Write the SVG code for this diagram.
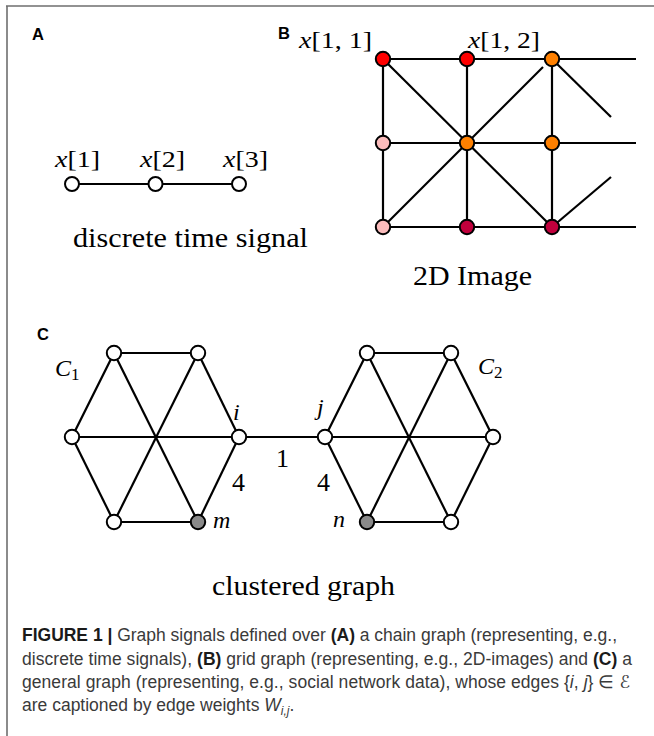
<svg xmlns="http://www.w3.org/2000/svg" width="654" height="736" viewBox="0 0 654 736">
<style>
.frame{stroke:#6e6e6e;stroke-width:1.6;fill:none}
.e{stroke:#000;stroke-width:2.2;fill:none;stroke-linecap:butt}
.n{stroke:#000;stroke-width:2;fill:#fff}
.lbl{font-family:"Liberation Sans",Arial,sans-serif;font-weight:bold;font-size:16.5px;fill:#000}
.math{font-family:"Liberation Serif","Times New Roman",serif;font-size:24px;fill:#000}
.num{font-family:"Liberation Serif","Times New Roman",serif;font-size:26px;fill:#000}
.it{font-style:italic}
.title{font-family:"Liberation Serif","Times New Roman",serif;font-size:28px;fill:#000}
.cap{font-family:"Liberation Sans",Arial,sans-serif;font-size:17.5px;fill:#3a3a3a}
.b{font-weight:bold;fill:#1a1a1a}
</style>
<rect width="654" height="736" fill="#fff"/>
<g id="frame">
<line class="frame" x1="6" y1="6" x2="654" y2="6"/>
<line class="frame" x1="7" y1="6" x2="7" y2="736"/>
</g>

<g id="connectors">
<line class="e" x1="72" y1="184" x2="239" y2="184"/>
<line class="e" x1="383" y1="59" x2="636" y2="59"/>
<line class="e" x1="383" y1="143" x2="636" y2="143"/>
<line class="e" x1="383" y1="227" x2="636" y2="227"/>
<line class="e" x1="383" y1="59" x2="383" y2="227"/>
<line class="e" x1="467" y1="59" x2="467" y2="227"/>
<line class="e" x1="552" y1="59" x2="552" y2="227"/>
<line class="e" x1="383" y1="59" x2="552" y2="227"/>
<line class="e" x1="383" y1="227" x2="543" y2="67"/>
<line class="e" x1="552" y1="59" x2="611" y2="117"/>
<line class="e" x1="552" y1="227" x2="611" y2="177"/>
<line class="e" x1="114" y1="353" x2="198" y2="353"/>
<line class="e" x1="198" y1="353" x2="239" y2="437"/>
<line class="e" x1="239" y1="437" x2="198" y2="522"/>
<line class="e" x1="198" y1="522" x2="114" y2="522"/>
<line class="e" x1="114" y1="522" x2="72" y2="437"/>
<line class="e" x1="72" y1="437" x2="114" y2="353"/>
<line class="e" x1="114" y1="353" x2="198" y2="522"/>
<line class="e" x1="198" y1="353" x2="114" y2="522"/>
<line class="e" x1="72" y1="437" x2="239" y2="437"/>
<line class="e" x1="239" y1="437" x2="325" y2="437"/>
<line class="e" x1="367" y1="353" x2="451" y2="353"/>
<line class="e" x1="451" y1="353" x2="493" y2="437"/>
<line class="e" x1="493" y1="437" x2="451" y2="522"/>
<line class="e" x1="451" y1="522" x2="367" y2="522"/>
<line class="e" x1="367" y1="522" x2="325" y2="437"/>
<line class="e" x1="325" y1="437" x2="367" y2="353"/>
<line class="e" x1="367" y1="353" x2="451" y2="522"/>
<line class="e" x1="451" y1="353" x2="367" y2="522"/>
<line class="e" x1="325" y1="437" x2="493" y2="437"/>
</g>

<g id="panelA">
<text class="lbl" x="32" y="40">A</text>
<g id="a1"><circle class="n" cx="72" cy="184" r="7"/><text class="math" x="55" y="167" textLength="45" lengthAdjust="spacingAndGlyphs"><tspan class="it">x</tspan>[1]</text></g>
<g id="a2"><circle class="n" cx="155.5" cy="184" r="7"/><text class="math" x="140" y="167" textLength="45" lengthAdjust="spacingAndGlyphs"><tspan class="it">x</tspan>[2]</text></g>
<g id="a3"><circle class="n" cx="239" cy="184" r="7"/><text class="math" x="223" y="167" textLength="45" lengthAdjust="spacingAndGlyphs"><tspan class="it">x</tspan>[3]</text></g>
<text class="title" x="73" y="247" textLength="235" lengthAdjust="spacingAndGlyphs">discrete time signal</text>
</g>

<g id="panelB">
<text class="lbl" x="278" y="39">B</text>
<text class="math" x="299" y="48" textLength="73" lengthAdjust="spacingAndGlyphs"><tspan class="it">x</tspan>[1, 1]</text>
<text class="math" x="468" y="48" textLength="72" lengthAdjust="spacingAndGlyphs"><tspan class="it">x</tspan>[1, 2]</text>
<g id="b11"><circle class="n" cx="383" cy="59" r="7.2" style="fill:#ff0000"/></g>
<g id="b12"><circle class="n" cx="467" cy="59" r="7.2" style="fill:#ff0000"/></g>
<g id="b13"><circle class="n" cx="552" cy="59" r="7.2" style="fill:#ff8000"/></g>
<g id="b21"><circle class="n" cx="383" cy="143" r="7.2" style="fill:#fbbcbc"/></g>
<g id="b22"><circle class="n" cx="467" cy="143" r="7.2" style="fill:#ff8000"/></g>
<g id="b23"><circle class="n" cx="552" cy="143" r="7.2" style="fill:#ff8000"/></g>
<g id="b31"><circle class="n" cx="383" cy="227" r="7.2" style="fill:#fbbcbc"/></g>
<g id="b32"><circle class="n" cx="467" cy="227" r="7.2" style="fill:#c0003c"/></g>
<g id="b33"><circle class="n" cx="552" cy="227" r="7.2" style="fill:#c0003c"/></g>
<text class="title" x="413" y="285" textLength="119" lengthAdjust="spacingAndGlyphs">2D Image</text>
</g>

<g id="panelC">
<text class="lbl" x="37" y="340">C</text>
<text class="math it" x="55" y="376" font-size="25">C<tspan font-style="normal" font-size="17" dy="4">1</tspan></text>
<text class="math it" x="478" y="374" font-size="25">C<tspan font-style="normal" font-size="17" dy="4">2</tspan></text>
<g id="c1tl"><circle class="n" cx="114" cy="353" r="7.2"/></g>
<g id="c1tr"><circle class="n" cx="198" cy="353" r="7.2"/></g>
<g id="c1l"><circle class="n" cx="72" cy="437" r="7.2"/></g>
<g id="node-i"><circle class="n" cx="239" cy="437" r="7.2"/><text class="math it" x="233" y="420">i</text></g>
<g id="c1bl"><circle class="n" cx="114" cy="522" r="7.2"/></g>
<g id="node-m"><circle class="n" cx="198" cy="522" r="7.2" style="fill:#8a8a8a"/><text class="math it" x="213" y="528" font-size="26">m</text></g>
<g id="c2tl"><circle class="n" cx="367" cy="353" r="7.2"/></g>
<g id="c2tr"><circle class="n" cx="451" cy="353" r="7.2"/></g>
<g id="node-j"><circle class="n" cx="325" cy="437" r="7.2"/><text class="math it" x="317" y="415">j</text></g>
<g id="c2r"><circle class="n" cx="493" cy="437" r="7.2"/></g>
<g id="node-n"><circle class="n" cx="367" cy="522" r="7.2" style="fill:#8a8a8a"/><text class="math it" x="333" y="527" font-size="26">n</text></g>
<g id="c2br"><circle class="n" cx="451" cy="522" r="7.2"/></g>
<text class="num" x="276" y="467">1</text>
<text class="num" x="232" y="491">4</text>
<text class="num" x="317" y="491">4</text>
<text class="title" x="212" y="595" textLength="183" lengthAdjust="spacingAndGlyphs">clustered graph</text>
</g>

<g id="caption">
<text class="cap" x="22" y="641" textLength="595" lengthAdjust="spacing"><tspan class="b">FIGURE 1 | </tspan>Graph signals defined over <tspan class="b">(A)</tspan> a chain graph (representing, e.g.,</text>
<text class="cap" x="22" y="664.5" textLength="610" lengthAdjust="spacing">discrete time signals), <tspan class="b">(B)</tspan> grid graph (representing, e.g., 2D-images) and <tspan class="b">(C)</tspan> a</text>
<text class="cap" x="22" y="688" textLength="608" lengthAdjust="spacing">general graph (representing, e.g., social network data), whose edges {<tspan class="it">i</tspan>, <tspan class="it">j</tspan>} ∈ <tspan font-family="'DejaVu Serif','DejaVu Sans',serif" font-style="italic">ℰ</tspan></text>
<text class="cap" x="22" y="711">are captioned by edge weights <tspan class="it">W</tspan><tspan class="it" font-size="12" dy="4">i,j</tspan><tspan dy="-4">.</tspan></text>
</g>
</svg>
